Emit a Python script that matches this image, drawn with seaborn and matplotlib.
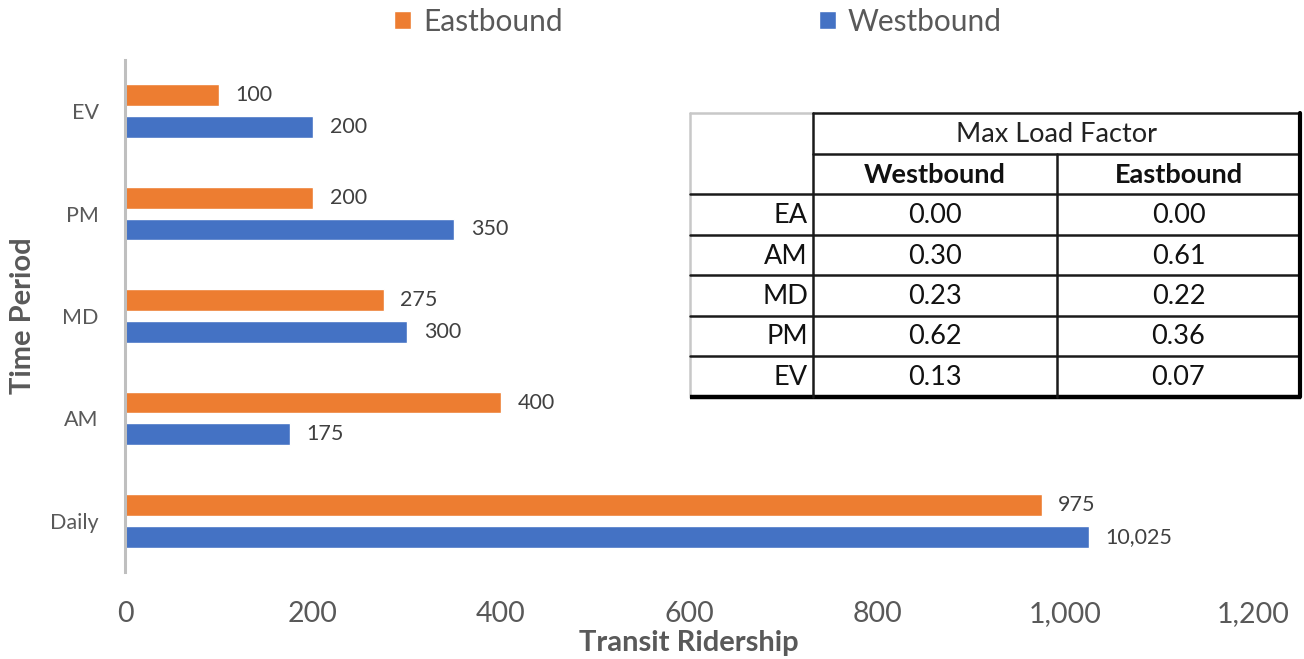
import matplotlib
matplotlib.use("Agg")
import matplotlib.pyplot as plt
from matplotlib.patches import Patch
import pandas as pd
import seaborn as sns

# Transit ridership by time period and direction
periods = ["EV", "PM", "MD", "AM", "Daily"]
eastbound = [100, 200, 275, 400, 975]
westbound = [200, 350, 300, 175, 1025]
east_labels = ["100", "200", "275", "400", "975"]
west_labels = ["200", "350", "300", "175", "10,025"]
directions = ["Eastbound", "Westbound"]
x_ticks = [0, 200, 400, 600, 800, 1000, 1200]
x_tick_labels = ["0", "200", "400", "600", "800", "1,000", "1,200"]

# Max load factor table
lf_periods = ["EA", "AM", "MD", "PM", "EV"]
lf_westbound = ["0.00", "0.30", "0.23", "0.62", "0.13"]
lf_eastbound = ["0.00", "0.61", "0.22", "0.36", "0.07"]

ORANGE = "#ED7D31"
BLUE = "#4472C4"
GREY_TXT = "#595959"

sns.set_theme(style="white")
plt.rcParams["font.family"] = ["Lato", "DejaVu Sans"]

df = pd.DataFrame({
    "period": periods * 2,
    "direction": ["Eastbound"] * len(periods) + ["Westbound"] * len(periods),
    "riders": eastbound + westbound,
})

W, H = 1304, 659
fig = plt.figure(figsize=(W / 100, H / 100), dpi=100)
ax = fig.add_axes([125 / W, 1 - 572 / H, (1253 - 125) / W, (572 - 60) / H])

sns.barplot(data=df, y="period", x="riders", hue="direction", order=periods,
            hue_order=directions, palette=[ORANGE, BLUE], orient="h",
            width=0.62, gap=0.31, saturation=1, errorbar=None, legend=False, ax=ax)

for cont, labs in zip(ax.containers, [east_labels, west_labels]):
    ax.bar_label(cont, labels=labs, padding=12, fontsize=15.5, color="#404040")

ax.set_xlim(0, 1200)
ax.set_ylim(4.5, -0.5)
ax.set_xticks(x_ticks)
ax.set_xticklabels(x_tick_labels)
ax.tick_params(axis="x", length=0, pad=21, labelsize=20.5, labelcolor=GREY_TXT)
ax.tick_params(axis="y", length=0, pad=19, labelsize=15.5, labelcolor=GREY_TXT)
for s in ["top", "right", "bottom"]:
    ax.spines[s].set_visible(False)
ax.spines["left"].set_color("#BFBFBF")
ax.spines["left"].set_linewidth(2.2)
ax.set_xlabel("Transit Ridership", fontsize=21, fontweight="bold", color=GREY_TXT, labelpad=2)
ax.set_ylabel("Time Period", fontsize=21, fontweight="bold", color=GREY_TXT, labelpad=10)

handles = [Patch(facecolor=ORANGE), Patch(facecolor=BLUE)]
fig.legend(handles, directions, loc="center", bbox_to_anchor=(698 / W, 1 - 22 / H),
           ncol=2, frameon=False, fontsize=21.5, labelcolor=GREY_TXT,
           handlelength=0.55, handleheight=0.55, handletextpad=0.4, columnspacing=8.6)

# Inset table, drawn in pixel coordinates
tx = fig.add_axes([0, 0, 1, 1], facecolor="none")
tx.set_xlim(0, W)
tx.set_ylim(H, 0)
tx.axis("off")

x0, x1, x2, x3 = 690, 813, 1057, 1300
row_y = [113, 154, 194, 235, 275, 316, 356, 397]
dark = "#1a1a1a"
light = "#c8c8c8"
lw = 1.8

tx.add_patch(plt.Rectangle((x0, row_y[0]), x3 - x0, row_y[-1] - row_y[0],
                           facecolor="white", edgecolor="none", zorder=1))
tx.plot([x0, x1], [row_y[0], row_y[0]], color=light, lw=lw)
tx.plot([x0, x0], [row_y[0], row_y[-1]], color=light, lw=lw)
tx.plot([x1, x3], [row_y[0], row_y[0]], color=dark, lw=lw)
tx.plot([x1, x3], [row_y[1], row_y[1]], color=dark, lw=lw)
for yy in row_y[2:-1]:
    tx.plot([x0, x3], [yy, yy], color=dark, lw=lw)
tx.plot([x0, x3 + 1], [row_y[-1], row_y[-1]], color="black", lw=3.2, solid_capstyle="butt")
tx.plot([x1, x1], [row_y[0], row_y[-1]], color=dark, lw=lw)
tx.plot([x2, x2], [row_y[1], row_y[-1]], color=dark, lw=lw)
tx.plot([x3, x3], [row_y[0], row_y[-1]], color="black", lw=3.0)

fs = 19.5
mid = lambda i: (row_y[i] + row_y[i + 1]) / 2 + 1
tx.text((x1 + x3) / 2, mid(0), "Max Load Factor", ha="center", va="center", fontsize=fs, color="#222222")
tx.text((x1 + x2) / 2, mid(1), "Westbound", ha="center", va="center", fontsize=fs, fontweight="bold", color="#111111")
tx.text((x2 + x3) / 2, mid(1), "Eastbound", ha="center", va="center", fontsize=fs, fontweight="bold", color="#111111")
for i, (p, w, e) in enumerate(zip(lf_periods, lf_westbound, lf_eastbound)):
    r = i + 2
    tx.text(x1 - 5, mid(r), p, ha="right", va="center", fontsize=fs, color="#111111")
    tx.text((x1 + x2) / 2, mid(r), w, ha="center", va="center", fontsize=fs, color="#111111")
    tx.text((x2 + x3) / 2, mid(r), e, ha="center", va="center", fontsize=fs, color="#111111")

fig.savefig("out.png", dpi=100)
